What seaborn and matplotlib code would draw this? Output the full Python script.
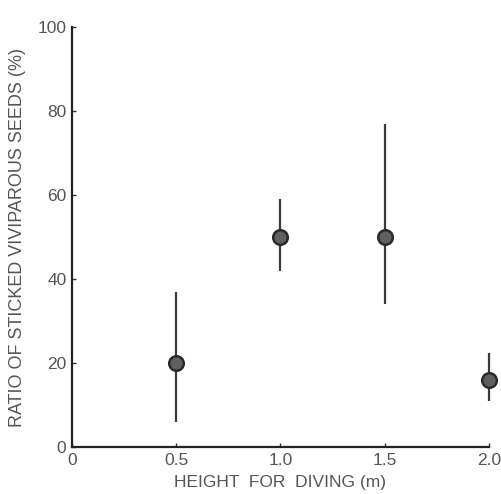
import numpy as np
import pandas as pd
import matplotlib
matplotlib.use("Agg")
import matplotlib.pyplot as plt
import seaborn as sns

# data
heights = [0.5, 1.0, 1.5, 2.0]
ratio = [20, 50, 50, 16]
upper = [37, 59, 77, 22.5]
lower = [6, 42, 34, 11]

df = pd.DataFrame({"height": heights, "ratio": ratio})

sns.set_style("ticks")
plt.rcParams["font.family"] = ["Liberation Sans", "DejaVu Sans"]

fig = plt.figure(figsize=(5.01, 4.94), dpi=100)
ax = fig.add_axes([0.1437, 0.0951, 0.976 - 0.1437, 0.9453 - 0.0951])

err = np.array([np.array(ratio) - np.array(lower), np.array(upper) - np.array(ratio)])
ax.errorbar(heights, ratio, yerr=err, fmt="none", ecolor="#3a3a3a",
            elinewidth=1.6, capsize=0, clip_on=False, zorder=2)
sns.scatterplot(data=df, x="height", y="ratio", ax=ax, s=110, color="#606060",
                edgecolor="#2a2a2a", linewidth=1.8, clip_on=False, zorder=3)

ax.set_xlim(0, 2.0)
ax.set_ylim(0, 100)
ax.set_xticks([0, 0.5, 1.0, 1.5, 2.0])
ax.set_xticklabels(["0", "0.5", "1.0", "1.5", "2.0"])
ax.set_yticks([0, 20, 40, 60, 80, 100])
ax.tick_params(direction="in", length=3, width=1, colors="#333333",
               labelcolor="#555555", labelsize=12.5, pad=4)
for s in ["left", "bottom"]:
    ax.spines[s].set_linewidth(1.6)
    ax.spines[s].set_color("#222222")
sns.despine(ax=ax)

ax.set_xlabel("HEIGHT  FOR  DIVING (m)", fontsize=12.5, color="#555555", labelpad=5)
ax.set_ylabel("RATIO OF STICKED VIVIPAROUS SEEDS (%)", fontsize=13,
              color="#555555", labelpad=8)

fig.savefig("out.png", dpi=100)
